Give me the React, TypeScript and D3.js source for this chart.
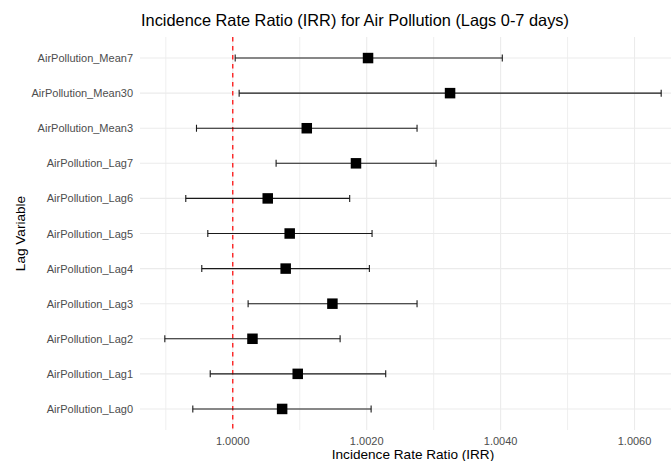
import React, { useEffect, useRef } from 'react';
import * as d3 from 'd3';

// rows from top to bottom, as in the picture
const lagVariables = [
  'AirPollution_Mean7',
  'AirPollution_Mean30',
  'AirPollution_Mean3',
  'AirPollution_Lag7',
  'AirPollution_Lag6',
  'AirPollution_Lag5',
  'AirPollution_Lag4',
  'AirPollution_Lag3',
  'AirPollution_Lag2',
  'AirPollution_Lag1',
  'AirPollution_Lag0',
];
const irr = [1.00202, 1.003245, 1.001105, 1.00184, 1.000522, 1.00085, 1.00079, 1.001488, 1.000294, 1.00097, 1.000737];
const lowerCI = [1.000036, 1.000095, 0.999458, 1.000647, 0.999298, 0.999627, 0.999537, 1.000229, 0.998985, 0.999663, 0.999403];
const upperCI = [1.004025, 1.006398, 1.002752, 1.003036, 1.001746, 1.00208, 1.00204, 1.002752, 1.001603, 1.002284, 1.002066];
const majorTicks = [1.0, 1.002, 1.004, 1.006];
const minorTicks = [0.999, 1.001, 1.003, 1.005];
const refLine = 1.0;

const FONT = "'Liberation Sans', Arial, sans-serif";

const App = () => {
  const svgRef = useRef<SVGSVGElement>(null);

  useEffect(() => {
    const svg = d3.select(svgRef.current);
    svg.selectAll('*').remove();

    const W = 671;
    const H = 461;
    const panel = { left: 140, right: 686, top: 37, bottom: 430 };

    const rows = lagVariables.map((name, i) => ({
      name,
      est: irr[i],
      lo: lowerCI[i],
      hi: upperCI[i],
    }));

    // ggplot style 5% expansion of the continuous range
    const lo = d3.min(lowerCI) as number;
    const hi = d3.max(upperCI) as number;
    const pad = (hi - lo) * 0.05;
    const x = d3
      .scaleLinear()
      .domain([lo - pad, hi + pad])
      .range([panel.left, panel.right]);

    const y = d3
      .scalePoint()
      .domain(lagVariables)
      .range([panel.top, panel.bottom])
      .padding(0.6);

    const g = svg.append('g');

    // grid
    g.selectAll('.minor')
      .data(minorTicks)
      .enter()
      .append('line')
      .attr('x1', d => x(d))
      .attr('x2', d => x(d))
      .attr('y1', panel.top)
      .attr('y2', panel.bottom)
      .attr('stroke', '#EBEBEB')
      .attr('stroke-width', 0.8);

    g.selectAll('.major')
      .data(majorTicks)
      .enter()
      .append('line')
      .attr('x1', d => x(d))
      .attr('x2', d => x(d))
      .attr('y1', panel.top)
      .attr('y2', panel.bottom)
      .attr('stroke', '#EBEBEB')
      .attr('stroke-width', 1.1);

    g.selectAll('.hgrid')
      .data(lagVariables)
      .enter()
      .append('line')
      .attr('x1', panel.left)
      .attr('x2', panel.right)
      .attr('y1', d => y(d) as number)
      .attr('y2', d => y(d) as number)
      .attr('stroke', '#EBEBEB')
      .attr('stroke-width', 1.1);

    // reference line at IRR = 1
    g.append('line')
      .attr('x1', x(refLine))
      .attr('x2', x(refLine))
      .attr('y1', panel.top)
      .attr('y2', panel.bottom)
      .attr('stroke', '#FF0000')
      .attr('stroke-width', 1.2)
      .attr('stroke-dasharray', '4.5,4.5');

    // error bars
    const capH = y.step() * 0.1;
    const bars = g
      .selectAll('.bar')
      .data(rows)
      .enter()
      .append('g');
    bars
      .append('line')
      .attr('x1', d => x(d.lo))
      .attr('x2', d => x(d.hi))
      .attr('y1', d => y(d.name) as number)
      .attr('y2', d => y(d.name) as number)
      .attr('stroke', '#1A1A1A')
      .attr('stroke-width', 1.1);
    bars
      .append('line')
      .attr('x1', d => x(d.lo))
      .attr('x2', d => x(d.lo))
      .attr('y1', d => (y(d.name) as number) - capH)
      .attr('y2', d => (y(d.name) as number) + capH)
      .attr('stroke', '#1A1A1A')
      .attr('stroke-width', 1.1);
    bars
      .append('line')
      .attr('x1', d => x(d.hi))
      .attr('x2', d => x(d.hi))
      .attr('y1', d => (y(d.name) as number) - capH)
      .attr('y2', d => (y(d.name) as number) + capH)
      .attr('stroke', '#1A1A1A')
      .attr('stroke-width', 1.1);

    // points
    const sq = 10.5;
    g.selectAll('.pt')
      .data(rows)
      .enter()
      .append('rect')
      .attr('x', d => x(d.est) - sq / 2)
      .attr('y', d => (y(d.name) as number) - sq / 2)
      .attr('width', sq)
      .attr('height', sq)
      .attr('fill', '#000');

    // axis labels
    g.selectAll('.ylab')
      .data(lagVariables)
      .enter()
      .append('text')
      .attr('x', 133)
      .attr('y', d => (y(d) as number) + 4)
      .attr('text-anchor', 'end')
      .attr('font-family', FONT)
      .attr('font-size', 11)
      .attr('fill', '#4D4D4D')
      .text(d => d);

    g.selectAll('.xlab')
      .data(majorTicks)
      .enter()
      .append('text')
      .attr('x', d => x(d))
      .attr('y', 444.5)
      .attr('text-anchor', 'middle')
      .attr('font-family', FONT)
      .attr('font-size', 11)
      .attr('fill', '#4D4D4D')
      .text(d => d3.format('.4f')(d));

    // titles
    svg
      .append('text')
      .attr('x', 141)
      .attr('y', 26)
      .attr('textLength', 428)
      .attr('lengthAdjust', 'spacingAndGlyphs')
      .attr('font-family', FONT)
      .attr('font-size', 16.5)
      .attr('fill', '#000')
      .text('Incidence Rate Ratio (IRR) for Air Pollution (Lags 0-7 days)');

    svg
      .append('text')
      .attr('x', (panel.left + panel.right) / 2)
      .attr('y', 459)
      .attr('text-anchor', 'middle')
      .attr('font-family', FONT)
      .attr('font-size', 13.6)
      .attr('fill', '#000')
      .text('Incidence Rate Ratio (IRR)');

    svg
      .append('text')
      .attr('transform', `translate(25, ${(panel.top + panel.bottom) / 2}) rotate(-90)`)
      .attr('text-anchor', 'middle')
      .attr('font-family', FONT)
      .attr('font-size', 13.6)
      .attr('fill', '#000')
      .text('Lag Variable');

    svg.attr('width', W).attr('height', H);
  }, []);

  return (
    <svg
      ref={svgRef}
      width={671}
      height={461}
      style={{ position: 'absolute', left: 0, top: 0, background: '#fff', overflow: 'hidden' }}
    />
  );
};

export default App;
